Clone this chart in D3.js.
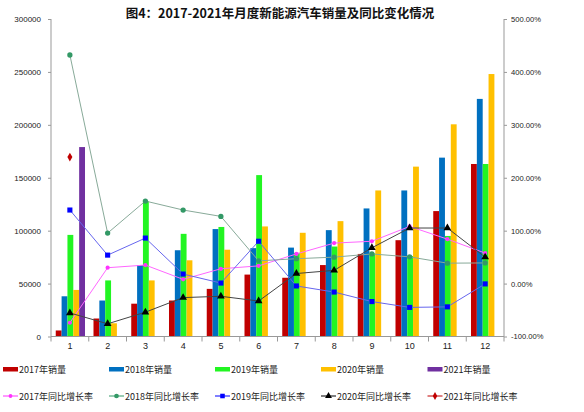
<!DOCTYPE html>
<html><head><meta charset="utf-8">
<script src="https://cdn.jsdelivr.net/npm/d3@7"></script>
<style>body{margin:0;background:#fff}svg{display:block}</style>
</head><body>
<svg id="c" width="584" height="412"></svg>
<script>
const months = ["1","2","3","4","5","6","7","8","9","10","11","12"];
const sales2017 = [5700,17000,31000,34000,45000,58500,55500,67500,78000,91000,118500,163000];
const sales2018 = [38000,34000,67500,81500,101500,83500,84000,100500,121000,138000,169000,224500];
const sales2019 = [96000,53000,128000,97000,103500,152500,79000,85000,78500,76000,95000,163000];
const sales2020 = [44000,12500,53000,72000,82000,104000,98000,109000,138000,160500,200500,248000];
const sales2021 = [179000,null,null,null,null,null,null,null,null,null,null,null];
const rate2017 = [-74,30,35,8,28,33.5,56,76.5,80,108,84,57.6];
const rate2018 = [432,95.4,156,139,127,43,47,50,56,50.5,38.6,39];
const rate2019 = [139,53.8,86,18,1,80,-4.5,-16,-34,-45,-44,-0.6];
const rate2020 = [-55.5,-76,-54,-26.5,-24,-33,19,25,67.6,105,105,50];
const rate2021 = [239,null,null,null,null,null,null,null,null,null,null,null];
const leftTicks = [0,50000,100000,150000,200000,250000,300000];
const rightTicks = [-100,0,100,200,300,400,500];
const barSeries = [
  {name:"2017年销量", values:sales2017, color:"#C00000"},
  {name:"2018年销量", values:sales2018, color:"#0070C0"},
  {name:"2019年销量", values:sales2019, color:"#22F522"},
  {name:"2020年销量", values:sales2020, color:"#FFC000"},
  {name:"2021年销量", values:sales2021, color:"#7030A0"}
];
const lineSeries = [
  {name:"2017年同比增长率", values:rate2017, color:"#FF33FF", line:"#FF66FF", sym:"circle", size:14},
  {name:"2018年同比增长率", values:rate2018, color:"#339966", line:"#88AA99", sym:"circle", size:22},
  {name:"2019年同比增长率", values:rate2019, color:"#0000FF", line:"#6666EE", sym:"square", size:26},
  {name:"2020年同比增长率", values:rate2020, color:"#000000", line:"#444444", sym:"triangle", size:26},
  {name:"2021年同比增长率", values:rate2021, color:"#C00000", line:"#C00000", sym:"diamond", size:22}
];

const svg = d3.select("#c");
const L = 51, R = 504, T = 19, B = 336.5;
const x = d3.scaleBand().domain(months).range([L, R]).padding(0);
const yL = d3.scaleLinear().domain([0,300000]).range([B, T]);
const yR = d3.scaleLinear().domain([-100,500]).range([B, T]);
const bw = x.bandwidth()*0.155;
const sub = d3.scaleBand().domain(d3.range(5)).range([0, bw*5]);
const off = (x.bandwidth() - bw*5)/2 + 0.5;

svg.append("text").attr("x", 280).attr("y", 18).attr("text-anchor","middle")
  .attr("font-family","'Noto Sans CJK SC'").attr("font-weight","bold").attr("font-size",12.5)
  .attr("fill","#111").text("图4：2017-2021年月度新能源汽车销量及同比变化情况");

// bars
barSeries.forEach((s,i)=>{
  svg.append("g").selectAll("rect").data(months.map((m,j)=>({m, v:s.values[j]})).filter(d=>d.v!=null))
    .join("rect")
    .attr("x", d=>x(d.m)+off+sub(i)).attr("width", bw)
    .attr("y", d=>yL(d.v)).attr("height", d=>B-yL(d.v))
    .attr("fill", s.color);
});

// axes
const axisColor = "#999";
const gL = svg.append("g").attr("transform",`translate(${L},0)`)
  .call(d3.axisLeft(yL).tickValues(leftTicks).tickFormat(d=>String(d)).tickSize(3).tickPadding(7));
const gR = svg.append("g").attr("transform",`translate(${R},0)`)
  .call(d3.axisRight(yR).tickValues(rightTicks).tickFormat(d=>d.toFixed(2)+"%").tickSize(3).tickPadding(4));
const gX = svg.append("g").attr("transform",`translate(0,${B})`)
  .call(d3.axisBottom(x).tickSize(0).tickPadding(6));
gX.append("g").selectAll("line").data(months.concat(["end"])).join("line")
  .attr("x1",(d,i)=>L+i*x.bandwidth()).attr("x2",(d,i)=>L+i*x.bandwidth())
  .attr("y1",0).attr("y2",5).attr("stroke",axisColor);
[gL,gR,gX].forEach(g=>{
  g.select(".domain").attr("stroke",axisColor);
  g.selectAll(".tick line").attr("stroke",axisColor);
  g.selectAll("text").attr("font-family","'Liberation Sans', Arial").attr("font-size",8).attr("fill","#222");
});
gR.selectAll("text").attr("font-size",7.6);
gX.selectAll("text").attr("font-size",9);
gL.select(".domain").attr("d",`M0,${T}V${B}`);
gR.select(".domain").attr("d",`M0,${T}V${B}`);
gX.select(".domain").attr("d",`M${L},0H${R}`);

// lines
const symMap = {circle:d3.symbolCircle, square:d3.symbolSquare, triangle:d3.symbolTriangle, diamond:d3.symbolDiamond};
lineSeries.forEach(s=>{
  const pts = months.map((m,j)=>({m, v:s.values[j]})).filter(d=>d.v!=null);
  const line = d3.line().x(d=>x(d.m)+x.bandwidth()/2).y(d=>yR(d.v));
  svg.append("path").datum(pts).attr("d", line).attr("fill","none").attr("stroke", s.line).attr("stroke-width",1);
  svg.append("g").selectAll("path").data(pts).join("path")
    .attr("transform", d=>`translate(${x(d.m)+x.bandwidth()/2},${yR(d.v)})`)
    .attr("d", d3.symbol(symMap[s.sym], s.size)).attr("fill", s.color);
});

// legend
const legX = [3,109,215,321,427.5];
const lg = svg.append("g").attr("font-family","'Noto Sans CJK SC'").attr("font-size",9).attr("fill","#222");
barSeries.forEach((s,i)=>{
  lg.append("rect").attr("x",legX[i]).attr("y",367).attr("width",15).attr("height",4.5).attr("fill",s.color);
  lg.append("text").attr("x",legX[i]+16).attr("y",372.5).text(s.name);
});
lineSeries.forEach((s,i)=>{
  lg.append("line").attr("x1",legX[i]).attr("x2",legX[i]+15).attr("y1",396).attr("y2",396).attr("stroke",s.line==="#88AA99"?"#339966":s.color).attr("stroke-width",1);
  lg.append("path").attr("transform",`translate(${legX[i]+7.5},396)`).attr("d", d3.symbol(symMap[s.sym], s.size*0.8)).attr("fill", s.color);
  lg.append("text").attr("x",legX[i]+16).attr("y",399.5).text(s.name);
});
</script>
</body></html>
